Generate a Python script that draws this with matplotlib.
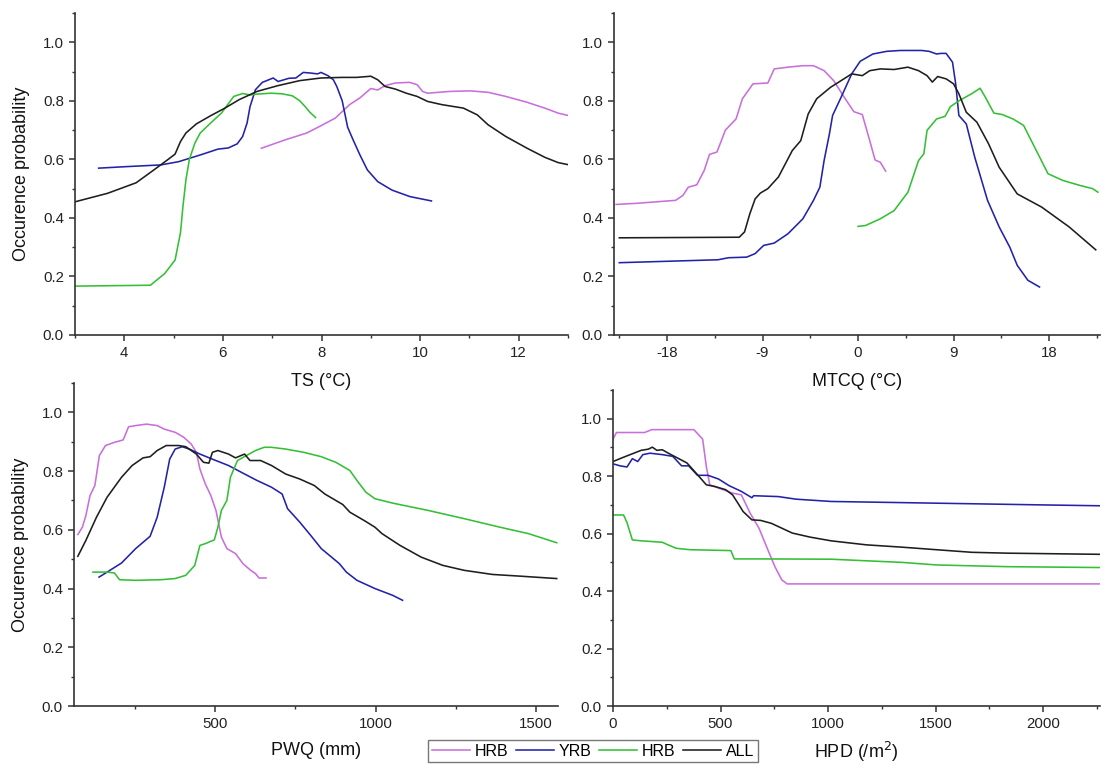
import matplotlib
matplotlib.use("Agg")
import matplotlib.pyplot as plt
from matplotlib.ticker import MultipleLocator, FormatStrFormatter

plt.rcParams['font.family'] = ['Liberation Sans', 'DejaVu Sans']
plt.rcParams['axes.unicode_minus'] = False

# ---------------- data ----------------
# Panel 1: TS (°C)
ts_hrb_x = [6.78, 7.27, 7.7, 7.99, 8.28, 8.57, 8.78, 9.0, 9.14, 9.29, 9.5, 9.79, 9.94, 10.05, 10.15, 10.59, 11.02, 11.38, 11.74, 12.17, 12.53, 12.8, 13.0]
ts_hrb_y = [0.638, 0.667, 0.69, 0.715, 0.741, 0.787, 0.81, 0.842, 0.837, 0.852, 0.861, 0.863, 0.855, 0.832, 0.826, 0.832, 0.834, 0.829, 0.815, 0.795, 0.775, 0.758, 0.75]
ts_yrb_x = [3.48, 4.02, 4.74, 5.1, 5.54, 5.9, 6.11, 6.29, 6.4, 6.49, 6.55, 6.66, 6.8, 7.02, 7.12, 7.34, 7.48, 7.63, 7.77, 7.92, 7.99, 8.13, 8.24, 8.31, 8.42, 8.53, 8.64, 8.78, 8.93, 9.14, 9.43, 9.79, 10.23]
ts_yrb_y = [0.57, 0.575, 0.581, 0.592, 0.615, 0.635, 0.639, 0.653, 0.678, 0.724, 0.78, 0.838, 0.863, 0.878, 0.866, 0.877, 0.878, 0.897, 0.895, 0.892, 0.897, 0.886, 0.872, 0.849, 0.80, 0.71, 0.667, 0.615, 0.564, 0.524, 0.495, 0.473, 0.458]
ts_grn_x = [3.0, 4.53, 4.82, 5.03, 5.14, 5.19, 5.25, 5.32, 5.43, 5.54, 5.75, 5.97, 6.11, 6.22, 6.4, 6.55, 6.69, 6.98, 7.2, 7.41, 7.56, 7.67, 7.77, 7.88]
ts_grn_y = [0.167, 0.17, 0.21, 0.256, 0.35, 0.44, 0.53, 0.60, 0.655, 0.69, 0.724, 0.758, 0.79, 0.815, 0.825, 0.82, 0.823, 0.826, 0.824, 0.817, 0.80, 0.78, 0.76, 0.743]
ts_all_x = [3.0, 3.66, 4.24, 4.6, 4.89, 5.03, 5.14, 5.25, 5.46, 5.75, 6.04, 6.33, 6.69, 7.12, 7.56, 7.99, 8.42, 8.71, 9.0, 9.14, 9.29, 9.5, 9.72, 9.94, 10.15, 10.44, 10.88, 11.16, 11.38, 11.74, 12.17, 12.53, 12.8, 13.0]
ts_all_y = [0.455, 0.484, 0.52, 0.564, 0.60, 0.618, 0.661, 0.69, 0.721, 0.749, 0.775, 0.804, 0.832, 0.852, 0.869, 0.878, 0.88, 0.88, 0.884, 0.872, 0.849, 0.84, 0.826, 0.815, 0.798, 0.787, 0.775, 0.752, 0.718, 0.678, 0.638, 0.607, 0.589, 0.582]

# Panel 2: MTCQ (°C)
mt_hrb_x = [-22.8, -20.8, -17.2, -16.5, -16.0, -15.2, -14.5, -14.0, -13.3, -12.5, -11.5, -10.9, -9.9, -8.5, -7.9, -6.6, -5.2, -4.2, -3.2, -2.3, -1.3, -0.4, 0.4, 1.1, 1.6, 2.1, 2.6]
mt_hrb_y = [0.446, 0.45, 0.46, 0.477, 0.505, 0.513, 0.562, 0.617, 0.625, 0.70, 0.738, 0.807, 0.858, 0.861, 0.909, 0.915, 0.92, 0.92, 0.903, 0.869, 0.812, 0.763, 0.753, 0.664, 0.598, 0.59, 0.56]
mt_yrb_x = [-22.5, -13.2, -12.2, -10.5, -9.7, -8.9, -7.9, -6.6, -5.2, -4.2, -3.6, -3.2, -2.7, -2.4, -1.6, -0.6, 0.2, 1.4, 2.7, 4.0, 6.0, 6.7, 7.4, 7.8, 8.3, 8.9, 9.2, 9.5, 10.2, 11.0, 12.2, 13.3, 14.3, 15.0, 16.0, 17.1]
mt_yrb_y = [0.247, 0.257, 0.264, 0.266, 0.278, 0.306, 0.314, 0.346, 0.397, 0.46, 0.505, 0.596, 0.687, 0.75, 0.812, 0.892, 0.935, 0.96, 0.969, 0.972, 0.972, 0.969, 0.96, 0.962, 0.962, 0.932, 0.858, 0.75, 0.721, 0.607, 0.46, 0.369, 0.30, 0.238, 0.187, 0.164]
mt_grn_x = [0.0, 0.7, 2.1, 3.4, 4.7, 5.7, 6.2, 6.5, 7.4, 8.2, 8.7, 9.5, 10.7, 11.5, 12.0, 12.8, 13.6, 14.6, 15.6, 16.8, 17.9, 19.3, 20.9, 22.1, 22.6]
mt_grn_y = [0.371, 0.374, 0.397, 0.425, 0.488, 0.596, 0.619, 0.699, 0.738, 0.747, 0.78, 0.80, 0.824, 0.843, 0.812, 0.758, 0.753, 0.738, 0.716, 0.63, 0.551, 0.528, 0.511, 0.50, 0.488]
mt_all_x = [-22.5, -11.2, -10.7, -10.2, -9.7, -9.2, -8.5, -7.5, -6.2, -5.4, -4.7, -3.9, -2.6, -1.6, -0.6, 0.4, 1.1, 2.1, 3.4, 4.7, 5.7, 6.5, 7.0, 7.5, 8.3, 9.0, 9.5, 10.2, 11.2, 12.3, 13.3, 15.0, 17.3, 19.9, 22.4]
mt_all_y = [0.332, 0.334, 0.352, 0.414, 0.465, 0.485, 0.50, 0.54, 0.63, 0.664, 0.755, 0.807, 0.846, 0.869, 0.892, 0.886, 0.903, 0.909, 0.907, 0.915, 0.903, 0.886, 0.864, 0.883, 0.875, 0.858, 0.824, 0.761, 0.727, 0.653, 0.573, 0.482, 0.437, 0.369, 0.291]

# Panel 3: PWQ (mm)
pw_hrb_x = [73, 87, 98, 111, 126, 140, 159, 187, 214, 231, 253, 287, 320, 342, 376, 403, 426, 442, 453, 470, 487, 503, 520, 537, 564, 587, 609, 626, 637, 659]
pw_hrb_y = [0.584, 0.609, 0.649, 0.717, 0.751, 0.853, 0.887, 0.898, 0.906, 0.951, 0.955, 0.96, 0.955, 0.943, 0.932, 0.915, 0.892, 0.864, 0.807, 0.756, 0.717, 0.666, 0.575, 0.536, 0.519, 0.485, 0.464, 0.451, 0.436, 0.436]
pw_yrb_x = [139, 164, 209, 253, 298, 320, 342, 359, 376, 398, 420, 453, 498, 542, 587, 631, 676, 709, 726, 764, 798, 831, 887, 909, 942, 998, 1053, 1084]
pw_yrb_y = [0.439, 0.456, 0.487, 0.536, 0.578, 0.643, 0.745, 0.841, 0.875, 0.883, 0.875, 0.858, 0.838, 0.819, 0.793, 0.768, 0.745, 0.722, 0.672, 0.626, 0.581, 0.536, 0.485, 0.456, 0.428, 0.40, 0.377, 0.36]
pw_grn_x = [120, 164, 187, 203, 253, 331, 376, 409, 437, 453, 470, 498, 509, 520, 537, 548, 570, 598, 626, 653, 676, 720, 776, 831, 876, 920, 942, 970, 998, 1053, 1164, 1276, 1387, 1476, 1564]
pw_grn_y = [0.456, 0.456, 0.453, 0.43, 0.428, 0.43, 0.434, 0.445, 0.479, 0.547, 0.553, 0.566, 0.609, 0.666, 0.70, 0.779, 0.836, 0.853, 0.87, 0.881, 0.881, 0.875, 0.864, 0.849, 0.83, 0.802, 0.768, 0.728, 0.706, 0.691, 0.666, 0.638, 0.609, 0.587, 0.556]
pw_all_x = [73, 98, 131, 164, 209, 242, 276, 298, 320, 348, 387, 409, 442, 464, 481, 492, 509, 542, 564, 592, 609, 642, 676, 720, 764, 809, 842, 898, 920, 964, 998, 1020, 1076, 1142, 1209, 1276, 1364, 1453, 1564]
pw_all_y = [0.51, 0.564, 0.643, 0.711, 0.779, 0.819, 0.845, 0.849, 0.87, 0.887, 0.887, 0.883, 0.858, 0.83, 0.827, 0.864, 0.87, 0.858, 0.845, 0.858, 0.836, 0.836, 0.819, 0.79, 0.773, 0.751, 0.722, 0.686, 0.66, 0.632, 0.609, 0.587, 0.547, 0.507, 0.479, 0.462, 0.448, 0.442, 0.434]

# Panel 4: HPD (/m2)
hp_hrb_x = [0, 16, 147, 180, 229, 376, 417, 434, 450, 556, 597, 638, 679, 720, 753, 785, 810, 2266]
hp_hrb_y = [0.929, 0.952, 0.952, 0.962, 0.962, 0.962, 0.929, 0.834, 0.77, 0.741, 0.735, 0.671, 0.619, 0.544, 0.485, 0.439, 0.425, 0.425]
hp_yrb_x = [0, 33, 65, 90, 115, 139, 172, 229, 278, 319, 352, 393, 442, 491, 540, 597, 646, 654, 769, 851, 1014, 1342, 1669, 1996, 2266]
hp_yrb_y = [0.843, 0.836, 0.832, 0.861, 0.851, 0.875, 0.88, 0.875, 0.869, 0.836, 0.836, 0.803, 0.803, 0.79, 0.767, 0.747, 0.725, 0.732, 0.729, 0.72, 0.712, 0.708, 0.704, 0.70, 0.697]
hp_grn_x = [0, 49, 65, 90, 131, 229, 262, 294, 360, 548, 564, 687, 1014, 1342, 1505, 1833, 2266]
hp_grn_y = [0.665, 0.665, 0.639, 0.578, 0.575, 0.57, 0.559, 0.549, 0.544, 0.541, 0.512, 0.512, 0.511, 0.50, 0.491, 0.485, 0.482]
hp_all_x = [0, 49, 90, 131, 164, 183, 204, 229, 270, 311, 344, 393, 434, 474, 524, 556, 581, 605, 646, 687, 736, 785, 834, 916, 1014, 1178, 1342, 1505, 1669, 1833, 2266]
hp_all_y = [0.851, 0.866, 0.878, 0.89, 0.894, 0.901, 0.89, 0.892, 0.875, 0.859, 0.846, 0.805, 0.77, 0.764, 0.753, 0.735, 0.706, 0.677, 0.648, 0.646, 0.636, 0.619, 0.602, 0.588, 0.575, 0.561, 0.553, 0.544, 0.535, 0.532, 0.528]

legend_labels = ["HRB", "YRB", "HRB", "ALL"]
x_labels = ["TS (°C)", "MTCQ (°C)", "PWQ (mm)", "HPD (/m$^2$)"]
y_label = "Occurence probability"

# ---------------- styling ----------------
C_VIO = "#c86fdc"
C_BLU = "#2323a8"
C_GRN = "#35bf35"
C_BLK = "#1e1e1e"
colors = [C_VIO, C_BLU, C_GRN, C_BLK]
LW = 1.15
W, H = 1101, 764

fig = plt.figure(figsize=(W / 100, H / 100), dpi=100)

def pos(l, r, t, b):
    return [l / W, 1 - b / H, (r - l) / W, (b - t) / H]

ax1 = fig.add_axes(pos(75, 568, 13, 335))
ax2 = fig.add_axes(pos(614, 1100, 13, 335))
ax3 = fig.add_axes(pos(74, 558, 383, 706))
ax4 = fig.add_axes(pos(613, 1100, 390, 706))

panels = [
    (ax1, [(ts_hrb_x, ts_hrb_y), (ts_yrb_x, ts_yrb_y), (ts_grn_x, ts_grn_y), (ts_all_x, ts_all_y)], (3, 13), 2, 1, True, 9),
    (ax2, [(mt_hrb_x, mt_hrb_y), (mt_yrb_x, mt_yrb_y), (mt_grn_x, mt_grn_y), (mt_all_x, mt_all_y)], (-23, 22.8), 9, 4.5, False, 9),
    (ax3, [(pw_hrb_x, pw_hrb_y), (pw_yrb_x, pw_yrb_y), (pw_grn_x, pw_grn_y), (pw_all_x, pw_all_y)], (61, 1568), 500, 250, True, 8),
    (ax4, [(hp_hrb_x, hp_hrb_y), (hp_yrb_x, hp_yrb_y), (hp_grn_x, hp_grn_y), (hp_all_x, hp_all_y)], (0, 2265), 500, 250, False, 6),
]

handles = None
for (ax, series, xlim, major, minor, ylab, lpad), xl in zip(panels, x_labels):
    ax.set_facecolor('none')
    hs = []
    for (x, y), c, lab in zip(series, colors, legend_labels):
        h, = ax.plot(x, y, color=c, lw=LW, label=lab)
        hs.append(h)
    if handles is None:
        handles = hs
    ax.set_xlim(*xlim)
    ax.set_ylim(0, 1.1)
    ax.xaxis.set_major_locator(MultipleLocator(major))
    ax.xaxis.set_minor_locator(MultipleLocator(minor))
    ax.yaxis.set_major_locator(MultipleLocator(0.2))
    ax.yaxis.set_minor_locator(MultipleLocator(0.1))
    ax.yaxis.set_major_formatter(FormatStrFormatter('%.1f'))
    for s in ['top', 'right']:
        ax.spines[s].set_visible(False)
    for s in ['left', 'bottom']:
        ax.spines[s].set_linewidth(1.2)
        ax.spines[s].set_color('#333333')
    ax.tick_params(which='major', direction='out', length=4, width=1.1, color='#333333',
                   labelsize=10.8, labelcolor='#222222', pad=4)
    ax.tick_params(which='minor', direction='out', length=2.5, width=1.0, color='#333333')
    ax.set_xlabel(xl, fontsize=13, color='#111111', labelpad=lpad)
    if ylab:
        ax.set_ylabel(y_label, fontsize=13, color='#111111', labelpad=9)

leg = fig.legend(handles, legend_labels, loc='center', bbox_to_anchor=(593 / W, 1 - 751 / H),
                 ncol=4, frameon=True, fancybox=False, fontsize=11.5, handlelength=2.4,
                 handletextpad=0.3, columnspacing=0.45, borderpad=0.25, borderaxespad=0)
leg.get_frame().set_edgecolor('#555555')
leg.get_frame().set_linewidth(1.0)

fig.savefig("out.png", dpi=100)
